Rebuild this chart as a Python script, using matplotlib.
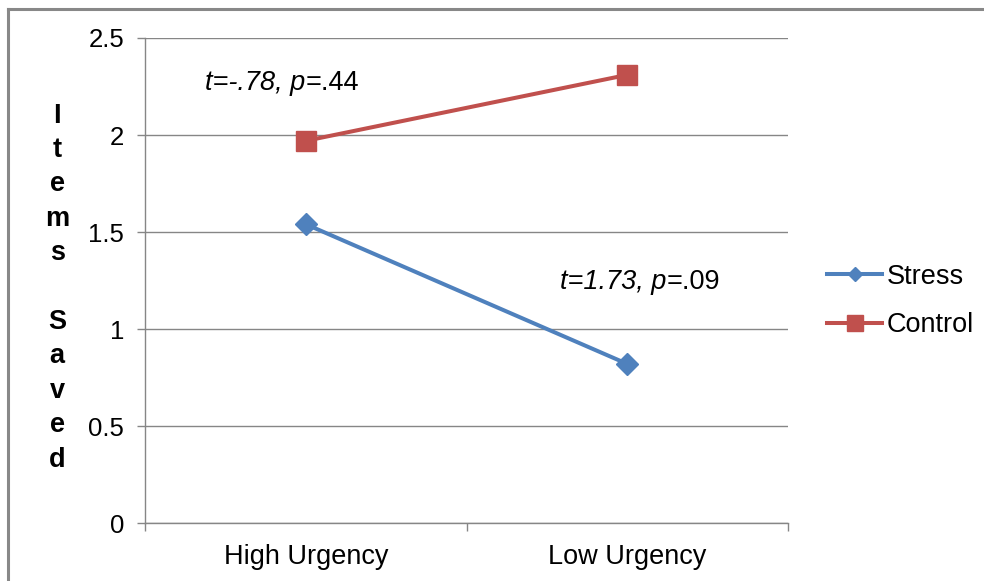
import matplotlib
matplotlib.use('Agg')
import matplotlib.pyplot as plt
from matplotlib.lines import Line2D

plt.rcParams['font.family'] = ['Liberation Sans', 'DejaVu Sans']

categories = ['High Urgency', 'Low Urgency']
stress = [1.54, 0.82]
control = [1.97, 2.31]
series_names = ['Stress', 'Control']
y_ticks = [0, 0.5, 1, 1.5, 2, 2.5]
y_tick_labels = ['0', '0.5', '1', '1.5', '2', '2.5']
ylabel_text = 'Items Saved'
note_high = ('t=-.78, p', '=.44')
note_low = ('t=1.73, p', '=.09')

blue = '#4F81BD'
red = '#C0504D'
grid_col = '#868686'
fs = 19.5

fig = plt.figure(figsize=(9.84, 5.81), dpi=100)
ax = fig.add_axes([0.1474, 0.0998, 0.6535, 0.8348])

x = list(range(len(categories)))
ax.plot(x, stress, color=blue, lw=2.9, marker='D', ms=11, zorder=3)
ax.plot(x, control, color=red, lw=2.9, marker='s', ms=15, zorder=3)

ax.set_xlim(-0.5, len(categories) - 0.5)
ax.set_ylim(0, 2.5)
ax.set_yticks(y_ticks)
ax.set_yticklabels(y_tick_labels, fontsize=18.5)
ax.set_xticks(x)
ax.set_xticklabels(categories, fontsize=fs)
ax.set_xticks([i - 0.5 for i in range(len(categories) + 1)], minor=True)
ax.tick_params(axis='x', which='major', length=0, pad=15)
ax.tick_params(axis='x', which='minor', length=6, color=grid_col, width=1)
ax.tick_params(axis='y', length=6, color=grid_col, width=1, pad=9)
ax.grid(axis='y', color=grid_col, lw=1)
ax.set_axisbelow(True)
for s in ['top', 'right']:
    ax.spines[s].set_visible(False)
for s in ['left', 'bottom']:
    ax.spines[s].set_color(grid_col)
    ax.spines[s].set_linewidth(1)

# stat notes: italic t and p, upright p value
for (it_part, rest), (nx, ny) in zip([note_high, note_low], [(-0.313, 2.268), (0.791, 1.24)]):
    t1 = ax.text(nx, ny, it_part, style='italic', fontsize=fs, ha='left', va='center')
    ax.annotate(rest, xy=(1, 0), xycoords=t1, fontsize=fs, ha='left', va='bottom')

# stacked y label
letters = []
for word in ylabel_text.split():
    letters.extend(list(word))
    letters.append('')
fig.text(0.058, 0.505, '\n'.join(letters[:-1]), fontsize=fs, fontweight='bold',
         ha='center', va='center', multialignment='center', linespacing=1.42)

handles = [
    Line2D([], [], color=blue, lw=2.9, marker='D', ms=7),
    Line2D([], [], color=red, lw=2.9, marker='s', ms=12),
]
fig.legend(handles, series_names, loc='center left', bbox_to_anchor=(0.8404, 0.482),
           frameon=False, fontsize=fs, handlelength=2.05, handletextpad=0.15,
           labelspacing=0.84, borderpad=0, borderaxespad=0)

# chart border (only top and left visible in the crop)
fig.add_artist(Line2D([8 / 984, 1], [1 - 9 / 581, 1 - 9 / 581], color='#888888', lw=2.2,
                      transform=fig.transFigure))
fig.add_artist(Line2D([8 / 984, 8 / 984], [0, 1 - 9 / 581], color='#888888', lw=2.2,
                      transform=fig.transFigure))

fig.savefig('out.png', dpi=100)
